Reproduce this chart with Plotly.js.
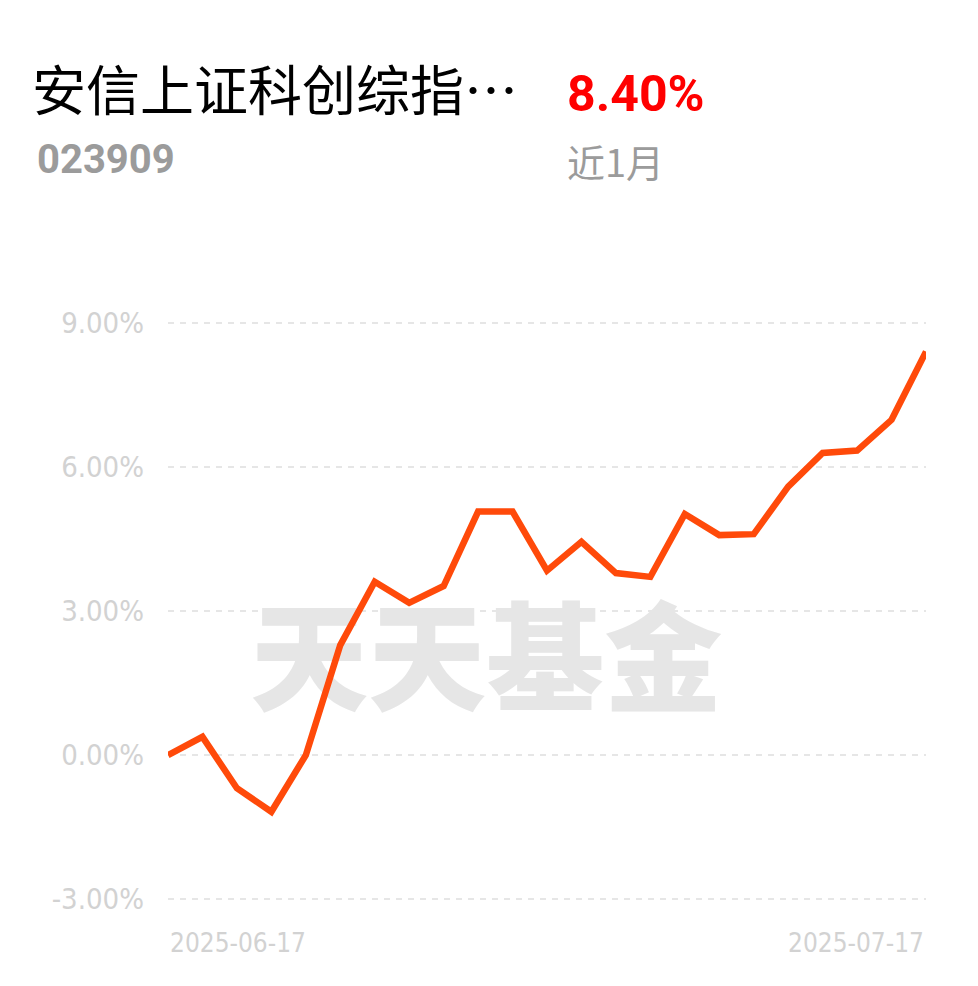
<!DOCTYPE html>
<html>
<head>
<meta charset="utf-8">
<script src="https://cdn.plot.ly/plotly-3.0.1.min.js"></script>
<style>
  html, body { margin: 0; padding: 0; background: #ffffff; }
  #chart { width: 978px; height: 986px; }
</style>
</head>
<body>
<div id="chart"></div>
<script>
// ---- data ----
const dates = [
  "2025-06-17","2025-06-18","2025-06-19","2025-06-20","2025-06-23","2025-06-24",
  "2025-06-25","2025-06-26","2025-06-27","2025-06-30","2025-07-01","2025-07-02",
  "2025-07-03","2025-07-04","2025-07-07","2025-07-08","2025-07-09","2025-07-10",
  "2025-07-11","2025-07-14","2025-07-15","2025-07-16","2025-07-17"
];
const returns = [
  0.00, 0.38, -0.69, -1.18, 0.00, 2.29, 3.61, 3.17, 3.52, 5.07, 5.07, 3.84,
  4.44, 3.79, 3.71, 5.02, 4.58, 4.60, 5.59, 6.29, 6.34, 6.98, 8.40
];
const yTicks = [-3, 0, 3, 6, 9];
const yTickText = ["-3.00%", "0.00%", "3.00%", "6.00%", "9.00%"];
const xTickLabels = ["2025-06-17", "2025-07-17"];
const fundName = "安信上证科创综指…";
const fundCode = "023909";
const periodReturn = "8.40%";
const periodLabel = "近1月";
const watermark = "天天基金";

// ---- styling ----
const narrow = "'DejaVu Sans Condensed', 'DejaVu Sans', sans-serif";
const roboto = "'Roboto', 'Liberation Sans', sans-serif";
const cjk = "'Noto Sans CJK SC', 'Noto Sans', sans-serif";

const trace = {
  x: dates,
  y: returns,
  type: "scatter",
  mode: "lines",
  line: { color: "#ff4a0a", width: 6.5, shape: "linear" },
  hoverinfo: "x+y"
};

const layout = {
  width: 978,
  height: 986,
  paper_bgcolor: "#ffffff",
  plot_bgcolor: "#ffffff",
  margin: { l: 168, r: 52, t: 318, b: 82 },
  showlegend: false,
  xaxis: {
    type: "category",
    range: [0, dates.length - 1],
    showgrid: false,
    zeroline: false,
    showline: false,
    showticklabels: false,
    ticks: "",
    fixedrange: true
  },
  yaxis: {
    range: [-3.1, 9.1],
    tickvals: yTicks,
    ticktext: yTickText,
    showgrid: true,
    gridcolor: "#e6e6e6",
    gridwidth: 2,
    griddash: "6px,6px",
    zeroline: false,
    showline: false,
    ticks: "",
    ticklabelstandoff: 23,
    tickfont: { family: narrow, size: 29, color: "#d2d2d2" },
    fixedrange: true
  },
  shapes: [
    {
      type: "rect", xref: "paper", yref: "paper",
      x0: 0.05, x1: 0.79, y0: 0.28, y1: 0.52,
      line: { width: 0 }, fillcolor: "rgba(0,0,0,0)",
      layer: "below",
      label: {
        text: watermark,
        textposition: "middle center",
        font: { family: cjk, size: 118, color: "#e6e6e6", weight: 900 }
      }
    }
  ],
  annotations: [
    {
      text: fundName, xref: "paper", yref: "paper",
      x: -0.182, y: 1.394, xanchor: "left", yanchor: "middle",
      showarrow: false,
      font: { family: cjk, size: 54, color: "#000000" }
    },
    {
      text: "<b>" + periodReturn + "</b>", xref: "paper", yref: "paper",
      x: 0.5237, y: 1.382, xanchor: "left", yanchor: "middle",
      showarrow: false,
      font: { family: roboto, size: 50, color: "#ff0000" }
    },
    {
      text: "<b>" + fundCode + "</b>", xref: "paper", yref: "paper",
      x: -0.1755, y: 1.27, xanchor: "left", yanchor: "middle",
      showarrow: false,
      font: { family: roboto, size: 40, color: "#9b9b9b" }
    },
    {
      text: periodLabel, xref: "paper", yref: "paper",
      x: 0.5237, y: 1.268, xanchor: "left", yanchor: "middle",
      showarrow: false,
      font: { family: cjk, size: 38, color: "#9b9b9b" }
    },
    {
      text: xTickLabels[0], xref: "x", yref: "paper",
      x: xTickLabels[0], y: -0.067, xanchor: "left", yanchor: "middle",
      showarrow: false,
      font: { family: narrow, size: 26, color: "#d2d2d2" }
    },
    {
      text: xTickLabels[1], xref: "x", yref: "paper",
      x: xTickLabels[1], y: -0.067, xanchor: "right", yanchor: "middle",
      showarrow: false,
      font: { family: narrow, size: 26, color: "#d2d2d2" }
    }
  ]
};

Plotly.newPlot("chart", [trace], layout, { displayModeBar: false, staticPlot: true });
</script>
</body>
</html>
